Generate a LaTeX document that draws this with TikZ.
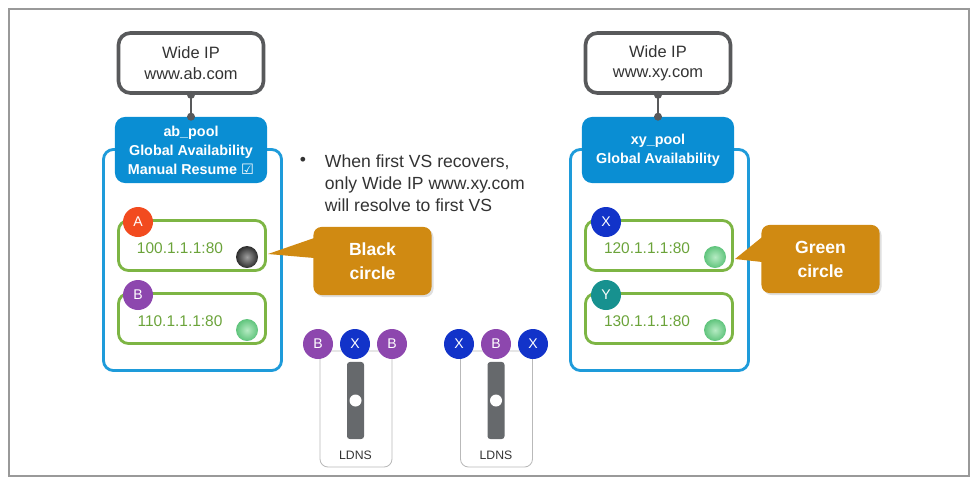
\documentclass[tikz,border=0pt]{standalone}
\usepackage{fontspec}
\setmainfont{Liberation Sans}
\newfontfamily\symfont{DejaVu Sans}
\usetikzlibrary{positioning,calc,shadows}

\definecolor{wideclr}{HTML}{58595B}
\definecolor{poolclr}{HTML}{0A8ED3}
\definecolor{frameclr}{HTML}{1E9BDA}
\definecolor{memclr}{HTML}{7DB544}
\definecolor{iptxt}{HTML}{6BA33A}
\definecolor{aclr}{HTML}{F24B1F}
\definecolor{bclr}{HTML}{8D47AE}
\definecolor{xclr}{HTML}{1233C9}
\definecolor{yclr}{HTML}{17918F}
\definecolor{callclr}{HTML}{D08A12}
\definecolor{barclr}{HTML}{66696C}
\definecolor{notetxt}{HTML}{333333}
\definecolor{okin}{HTML}{B6EBC3}
\definecolor{okout}{HTML}{5FC47C}

\begin{document}
\begin{tikzpicture}[x=0.025cm,y=-0.025cm]
\tikzset{wideip/.style = {draw=wideclr,line width=2.6pt,rounded corners=0.3cm,inner sep=0pt,
  minimum width=3.625cm,minimum height=1.5cm,align=center,text=notetxt,
  font=\fontsize{11.7}{14.5}\selectfont}}
\tikzset{pool/.style = {fill=poolclr,rounded corners=0.25cm,inner sep=0pt,minimum width=3.8cm,
  minimum height=1.65cm,align=center,text=white,font=\fontsize{10.2}{13.5}\selectfont\bfseries}}
\tikzset{frame/.style = {draw=frameclr,line width=2pt,rounded corners=0.25cm,
  minimum width=4.45cm,minimum height=5.525cm}}
\tikzset{member/.style = {draw=memclr,line width=2pt,rounded corners=0.25cm,
  minimum width=3.675cm,minimum height=1.25cm}}
\tikzset{iplbl/.style = {text=iptxt,font=\fontsize{11}{13}\selectfont}}
\tikzset{badge/.style = {shape=circle,inner sep=0pt,minimum size=0.75cm,text=white,
  font=\fontsize{10}{12}\selectfont}}
\tikzset{greyball/.style = {shape=circle,inner sep=0pt,minimum size=0.55cm,
  inner color=gray!75,outer color=gray!35!black}}
\tikzset{greenball/.style = {shape=circle,inner sep=0pt,minimum size=0.55cm,
  inner color=okin,outer color=okout}}
\tikzset{callout/.style = {fill=callclr,rounded corners=0.2cm,minimum width=2.95cm,
  minimum height=1.7cm,align=center,text=white,font=\fontsize{12.5}{17}\selectfont\bfseries,
  drop shadow={opacity=0.25,shadow xshift=0.05cm,shadow yshift=-0.05cm}}}
\tikzset{link/.style = {draw=wideclr,line width=1.6pt}}
\tikzset{note/.style = {text=notetxt,align=left,font=\fontsize{12.5}{15.5}\selectfont}}
\tikzset{ldnsbox/.style = {draw=gray!55,line width=0.6pt,rounded corners=0.2cm,
  minimum width=1.8cm,minimum height=2.9cm}}
\tikzset{bar/.style = {fill=barclr,rounded corners=2pt,minimum width=0.425cm,minimum height=1.925cm}}
\tikzset{knob/.style = {shape=circle,fill=white,inner sep=0pt,minimum size=0.3cm}}
\tikzset{ldnslbl/.style = {text=notetxt,font=\fontsize{8.7}{10}\selectfont}}

\useasboundingbox (0,0) rectangle (978,487);
\draw[gray!80,line width=1pt] (9,9) rectangle (969,476);

% left wide IP
\node[frame] (frameA) at (192.5,260) {};
\node[wideip] (wideA) at (191,63) {Wide IP\\www.ab.com};
\node[pool] (poolA) at (191,150) {ab\_pool\\Global Availability\\Manual Resume {\symfont\mdseries ☑}};
\draw[link] (wideA.south) -- (poolA.north);
\fill[wideclr] (wideA.south) circle[radius=0.1cm];
\fill[wideclr] (poolA.north) circle[radius=0.1cm];

\node[member] (memA) at (192,245.5) {};
\node[member] (memB) at (192,318.5) {};
\node[iplbl] (ipA) at (180,248) {100.1.1.1:80};
\node[iplbl] (ipB) at (180,321) {110.1.1.1:80};
\node[badge,fill=aclr] (badgeA) at (138,222) {A};
\node[badge,fill=bclr] (badgeB) at (138,295) {B};
\node[greyball] (ballA) at (247,257) {};
\node[greenball] (ballB) at (247,330) {};

% right wide IP
\node[frame] (frameX) at (659.5,260) {};
\node[wideip] (wideX) at (658,63) {Wide IP\\www.xy.com};
\node[pool] (poolX) at (658,150) {xy\_pool\\Global Availability};
\draw[link] (wideX.south) -- (poolX.north);
\fill[wideclr] (wideX.south) circle[radius=0.1cm];
\fill[wideclr] (poolX.north) circle[radius=0.1cm];

\node[member] (memX) at (659,245.5) {};
\node[member] (memY) at (659,318.5) {};
\node[iplbl] (ipX) at (647,248) {120.1.1.1:80};
\node[iplbl] (ipY) at (647,321) {130.1.1.1:80};
\node[badge,fill=xclr] (badgeX) at (606,222) {X};
\node[badge,fill=yclr] (badgeY) at (606,295) {Y};
\node[greenball] (ballX) at (715,257) {};
\node[greenball] (ballY) at (715,330) {};

% note
\node[note] (dot) at (303,161) {\textbullet};
\node[note,anchor=west] (note) at (320,183) {When first VS recovers,\\only Wide IP www.xy.com\\will resolve to first VS};

% callouts
\node[callout] (callA) at (372.5,261) {Black\\circle};
\coordinate (tipA) at (268,254);
\fill[callclr] (tipA) -- ($(callA.west)+(1,-23)$) -- ($(callA.west)+(1,-3)$) -- cycle;
\node[callout] (callX) at (820.5,259) {Green\\circle};
\coordinate (tipX) at (735,259);
\fill[callclr] (tipX) -- ($(callX.west)+(1,-22)$) -- ($(callX.west)+(1,3)$) -- cycle;

% LDNS
\node[ldnsbox] (ldnsL) at (356,409) {};
\node[bar] (barL) at (355.5,400.5) {};
\node[knob] (knobL) at (barL.center) {};
\node[ldnslbl] (lblL) at (355.5,455) {LDNS};
\node[badge,fill=bclr] (l1) at (318,344) {B};
\node[badge,fill=xclr] (l2) at (355,344) {X};
\node[badge,fill=bclr] (l3) at (392,344) {B};

\node[ldnsbox] (ldnsR) at (496.5,409) {};
\node[bar] (barR) at (496,400.5) {};
\node[knob] (knobR) at (barR.center) {};
\node[ldnslbl] (lblR) at (496,455) {LDNS};
\node[badge,fill=xclr] (r1) at (459,344) {X};
\node[badge,fill=bclr] (r2) at (496,344) {B};
\node[badge,fill=xclr] (r3) at (533,344) {X};
\end{tikzpicture}
\end{document}
